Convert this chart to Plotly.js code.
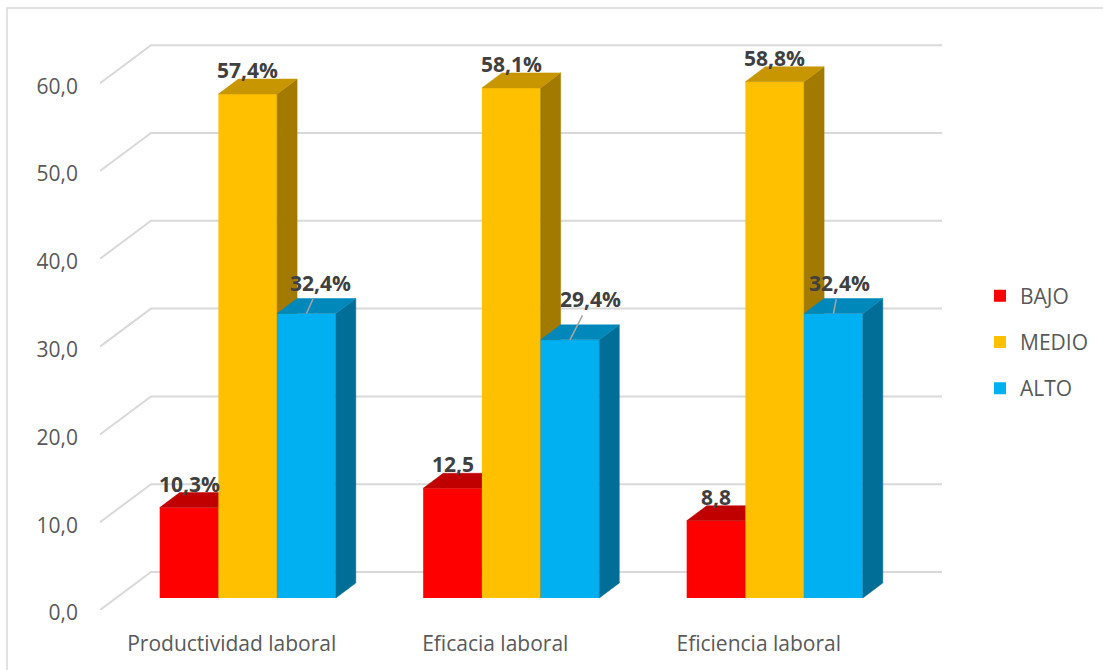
<!DOCTYPE html>
<html>
<head>
<meta charset="utf-8">
<script src="https://cdn.plot.ly/plotly-3.0.1.min.js"></script>
<style>
  html, body { margin: 0; padding: 0; background: #ffffff; }
  #chart { width: 1103px; height: 670px; }
</style>
</head>
<body>
<div id="chart"></div>
<script>
// ---- data ----
const categories = ["Productividad laboral", "Eficacia laboral", "Eficiencia laboral"];
const seriesNames = ["BAJO", "MEDIO", "ALTO"];
const bajo  = [10.3, 12.5, 8.8];
const medio = [57.4, 58.1, 58.8];
const alto  = [32.4, 29.4, 32.4];
const bajoLabels  = ["10,3%", "12,5", "8,8"];
const medioLabels = ["57,4%", "58,1%", "58,8%"];
const altoLabels  = ["32,4%", "29,4%", "32,4%"];
const yTicks = [0, 10, 20, 30, 40, 50, 60];

// ---- geometry of the pseudo-3D projection (pixels) ----
const W = 1103, H = 670;
const M = { l: 100, r: 161, t: 40, b: 60, autoexpand: false };
const plotW = W - M.l - M.r, plotH = H - M.t - M.b;
const PX_CAT = 263.5;   // pixels per category
const PX_UNIT = 8.78;   // pixels per value unit
const px2x = p => p / PX_CAT;
const px2y = p => p / PX_UNIT;
const xRange = [-0.5, -0.5 + px2x(plotW)];
const yRange = [0, px2y(plotH)];

const wall = { dx: px2x(51), dy: px2y(38) };      // floor front edge -> back wall
const front = { dx: px2x(16), dy: px2y(12) };     // floor front edge -> bar front faces
const depth = { dx: px2x(20), dy: px2y(15) };     // bar front face -> bar back face
const bw = px2x(58.7);                             // bar width

const palette = [
  { front: "#FF0000", top: "#C00000", side: "#9A0000" },
  { front: "#FFC000", top: "#C79600", side: "#A27A00" },
  { front: "#00B0F0", top: "#0088BB", side: "#006E96" }
];

const seriesValues = [bajo, medio, alto];
const seriesLabels = [bajoLabels, medioLabels, altoLabels];

const traces = [];

// back wall / floor gridlines
const gx = [], gy = [];
yTicks.forEach(v => {
  gx.push(xRange[0], xRange[0] + wall.dx, xRange[1], null);
  gy.push(v, v + wall.dy, v + wall.dy, null);
});
traces.push({
  type: "scatter", mode: "lines", x: gx, y: gy, xaxis: "x", yaxis: "y",
  line: { color: "#D9D9D9", width: 2 }, hoverinfo: "skip", showlegend: false,
  cliponaxis: false
});

// bars: each series on its own overlaid axis pair so later series paint over earlier ones
seriesValues.forEach((vals, s) => {
  const xa = "x" + (s + 2), ya = "y" + (s + 2);
  const centers = vals.map((_, i) => i + front.dx + (s - 1) * bw);
  traces.push({
    type: "bar", name: seriesNames[s], x: centers, y: vals,
    base: vals.map(() => front.dy), width: bw,
    xaxis: xa, yaxis: ya,
    marker: { color: palette[s].front, line: { width: 0 } },
    legendgroup: "g" + s, showlegend: true, hoverinfo: "skip"
  });
  const tx = [], ty = [], sx = [], sy = [];
  vals.forEach((v, i) => {
    const xl = centers[i] - bw / 2, xr = centers[i] + bw / 2;
    const yb = front.dy, yt = front.dy + v;
    tx.push(xl, xr, xr + depth.dx, xl + depth.dx, xl, null);
    ty.push(yt, yt, yt + depth.dy, yt + depth.dy, yt, null);
    sx.push(xr, xr, xr + depth.dx, xr + depth.dx, xr, null);
    sy.push(yb, yt, yt + depth.dy, yb + depth.dy, yb, null);
  });
  traces.push({
    type: "scatter", mode: "lines", x: sx, y: sy, xaxis: xa, yaxis: ya,
    fill: "toself", fillcolor: palette[s].side,
    line: { color: palette[s].side, width: 0.5 },
    hoverinfo: "skip", showlegend: false
  });
  traces.push({
    type: "scatter", mode: "lines", x: tx, y: ty, xaxis: xa, yaxis: ya,
    fill: "toself", fillcolor: palette[s].top,
    line: { color: palette[s].top, width: 0.5 },
    hoverinfo: "skip", showlegend: false
  });
});

// data labels; some are pulled aside with a leader line
const leader = {
  "2-0": { ax: 14, ay: -31 },
  "2-1": { ax: 21, ay: -41 },
  "2-2": { ax: 6, ay: -31 }
};
const annotations = [];
seriesValues.forEach((vals, s) => {
  vals.forEach((v, i) => {
    const a = {
      x: i + front.dx + (s - 1) * bw, y: front.dy + v, xref: "x", yref: "y",
      text: seriesLabels[s][i],
      font: { family: "Open Sans", size: 21, color: "#404040", weight: "bold" },
      showarrow: false, yshift: 24
    };
    const l = leader[s + "-" + i];
    if (l) {
      a.showarrow = true; a.arrowhead = 0; a.arrowwidth = 1.5; a.arrowcolor = "#A6A6A6";
      a.ax = l.ax; a.ay = l.ay; a.standoff = 0; a.yshift = 0; a.borderpad = 2;
    }
    annotations.push(a);
  });
});

const hidden = { range: xRange, visible: false, fixedrange: true };
const hiddenY = { range: yRange, visible: false, fixedrange: true };

const layout = {
  width: W, height: H, margin: M,
  paper_bgcolor: "#ffffff", plot_bgcolor: "rgba(0,0,0,0)",
  separators: ",.",
  font: { family: "Open Sans", color: "#595959" },
  barmode: "overlay",
  xaxis: {
    range: xRange, fixedrange: true, showgrid: false, zeroline: false, showline: false,
    tickmode: "array", tickvals: categories.map((_, i) => i), ticktext: categories,
    ticks: "", ticklabelstandoff: 19, tickfont: { size: 21, color: "#595959" }
  },
  yaxis: {
    range: yRange, fixedrange: true, showgrid: false, zeroline: false, showline: false,
    tickmode: "array", tickvals: yTicks, tickformat: ".1f",
    ticks: "", ticklabelstandoff: 21, ticklabelshift: 3,
    tickfont: { size: 21, color: "#595959" }
  },
  xaxis2: Object.assign({ overlaying: "x" }, hidden),
  yaxis2: Object.assign({ overlaying: "y" }, hiddenY),
  xaxis3: Object.assign({ overlaying: "x" }, hidden),
  yaxis3: Object.assign({ overlaying: "y" }, hiddenY),
  xaxis4: Object.assign({ overlaying: "x" }, hidden),
  yaxis4: Object.assign({ overlaying: "y" }, hiddenY),
  showlegend: true,
  legend: {
    x: (980 - M.l) / plotW, xanchor: "left",
    y: (H - M.b - 342) / plotH, yanchor: "middle",
    traceorder: "grouped", tracegroupgap: 16,
    font: { size: 21, color: "#595959" }, bgcolor: "rgba(0,0,0,0)"
  },
  annotations: annotations,
  shapes: [{
    type: "rect", xref: "paper", yref: "paper", layer: "below",
    x0: (7 - M.l) / plotW, x1: (W + 20 - M.l) / plotW,
    y0: (H - M.b - (H + 20)) / plotH, y1: (H - M.b - 8) / plotH,
    line: { color: "#D9D9D9", width: 1.5 }
  }]
};

Plotly.newPlot("chart", traces, layout, { displayModeBar: false, staticPlot: true });
</script>
</body>
</html>
